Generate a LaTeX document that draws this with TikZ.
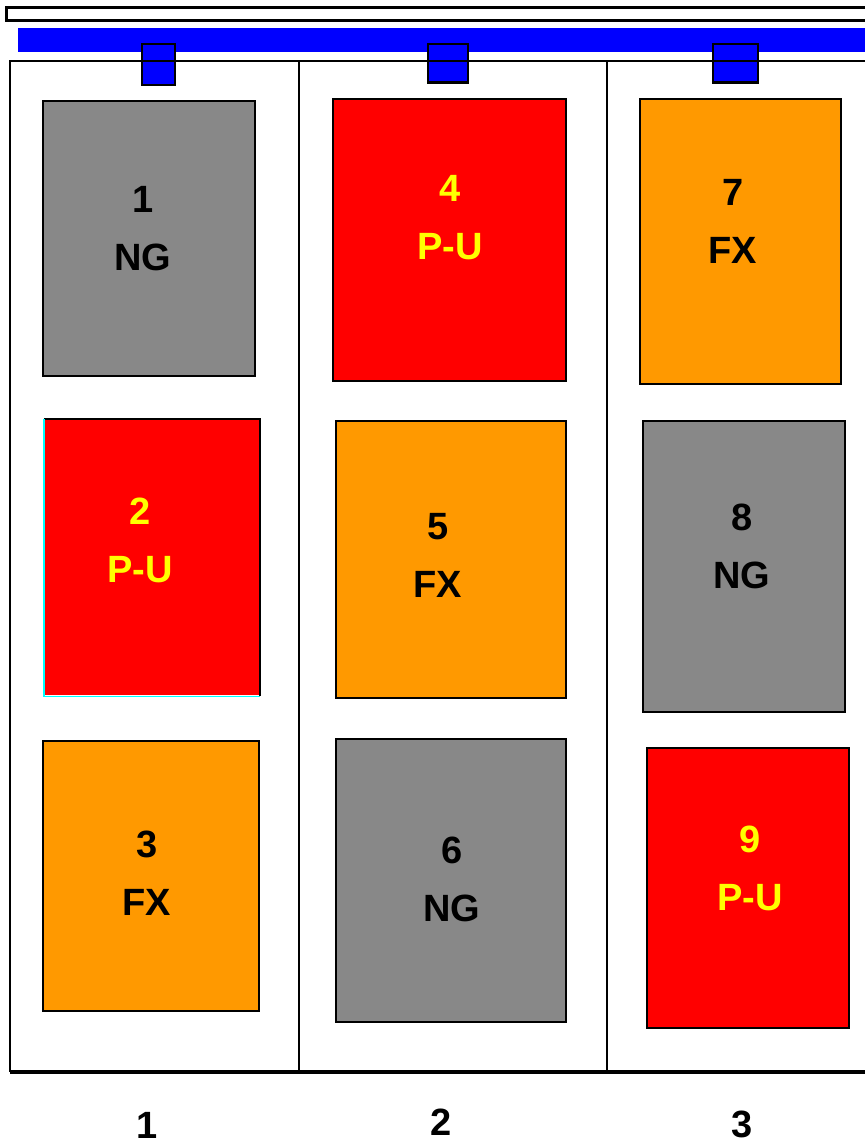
\documentclass[tikz,border=0pt]{standalone}
\usepackage{fontspec}
\setmainfont{Liberation Sans}
\usetikzlibrary{fit}
\definecolor{ngray}{HTML}{888888}
\definecolor{pured}{HTML}{FF0000}
\definecolor{fxorange}{HTML}{FF9900}
\definecolor{tagyellow}{HTML}{FFFF00}
\definecolor{railblue}{HTML}{0000FF}
\definecolor{edgecyan}{HTML}{00FFFF}

\begin{document}
\begin{tikzpicture}[x=0.5pt,y=-0.5pt,
 slot/.style={draw=black,line width=1.1pt,inner sep=0pt},
 tag/.style={align=center,inner sep=0pt,font=\bfseries\fontsize{19}{29}\selectfont},
 hook/.style={draw=black,fill=railblue,line width=0.9pt,inner sep=0pt},
 lane/.style={font=\bfseries\fontsize{19}{20}\selectfont}]
 \useasboundingbox (0,0) rectangle (865,1144);
 % rail
 \draw[line width=1.5pt] (6,8) rectangle (880,21);
 \fill[railblue] (18,28) rectangle (880,52);
 \node[hook,fit={(142,44)(175,85)}] (h1) {};
 \node[hook,fit={(428,44)(468,82)}] (h2) {};
 \node[hook,fit={(713,44)(758,82)}] (h3) {};
 \draw[line width=1.6pt] (h2.south west) -- (h2.south east);
 \draw[line width=1.6pt] (h3.south west) -- (h3.south east);
 % cabinet
 \draw[line width=1pt] (880,61) -- (10,61) -- (10,1072);
 \draw[line width=1.8pt] (10,1072) -- (880,1072);
 \draw[line width=1pt] (299,61) -- (299,1072);
 \draw[line width=1pt] (607,61) -- (607,1072);
 % column 1
 \node[slot,fill=ngray,fit={(43,101)(255,376)}] (b1) {};
 \node[slot,draw=none,fill=pured,fit={(45,420)(259,695)}] (b2) {};
 \draw[line width=1.1pt] (b2.north west) -- (b2.north east) -- (b2.south east);
 \draw[edgecyan,line width=0.6pt] (b2.north west) -- (b2.south west) -- (b2.south east);
 \node[slot,fill=fxorange,fit={(43,741)(259,1011)}] (b3) {};
 \node[tag] (t1) at (143,229) {1\\NG};
 \node[tag,text=tagyellow] (t2) at (140,540) {2\\P-U};
 \node[tag] (t3) at (147,873) {3\\FX};
 % column 2
 \node[slot,fill=pured,fit={(333,99)(566,381)}] (b4) {};
 \node[slot,fill=fxorange,fit={(336,421)(566,698)}] (b5) {};
 \node[slot,fill=ngray,fit={(336,739)(566,1022)}] (b6) {};
 \node[tag,text=tagyellow] (t4) at (450,218) {4\\P-U};
 \node[tag] (t5) at (438,555) {5\\FX};
 \node[tag] (t6) at (452,879) {6\\NG};
 % column 3
 \node[slot,fill=fxorange,fit={(640,99)(841,384)}] (b7) {};
 \node[slot,fill=ngray,fit={(643,421)(845,712)}] (b8) {};
 \node[slot,fill=pured,fit={(647,748)(849,1028)}] (b9) {};
 \node[tag] (t7) at (733,221) {7\\FX};
 \node[tag] (t8) at (742,546) {8\\NG};
 \node[tag,text=tagyellow] (t9) at (750,868) {9\\P-U};
 % lanes
 \node[lane] (l1) at (147,1125) {1};
 \node[lane] (l2) at (441,1122) {2};
 \node[lane] (l3) at (742,1124) {3};
\end{tikzpicture}
\end{document}
